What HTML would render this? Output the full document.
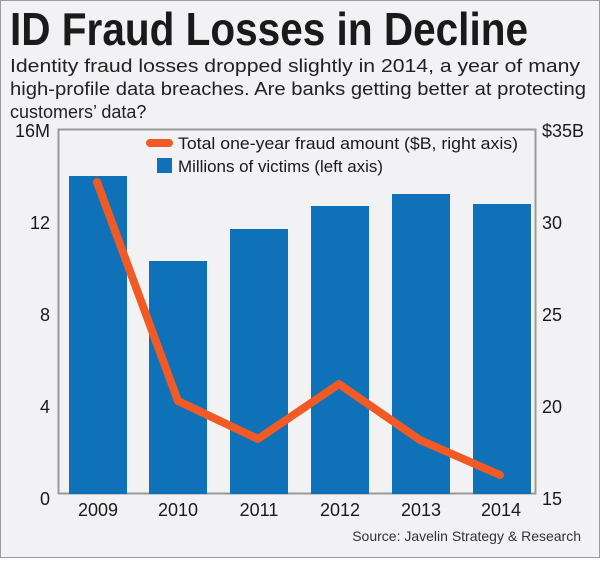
<!DOCTYPE html><html><head><style>body{margin:0}</style></head><body>
<svg width="600" height="558" xmlns="http://www.w3.org/2000/svg" font-family="Liberation Sans, sans-serif">
<rect x="0.5" y="0.5" width="599" height="557" fill="#f2f2f4" stroke="#9a9a9a"/>
<text x="10" y="45" font-size="46" font-weight="bold" fill="#1a1a1a" textLength="518" lengthAdjust="spacingAndGlyphs">ID Fraud Losses in Decline</text>
<g font-size="18" fill="#222">
<text x="10" y="72" textLength="570" lengthAdjust="spacingAndGlyphs">Identity fraud losses dropped slightly in 2014, a year of many</text>
<text x="10" y="95" textLength="576" lengthAdjust="spacingAndGlyphs">high-profile data breaches. Are banks getting better at protecting</text>
<text x="10" y="118">customers’ data?</text>
</g>
<rect x="58.5" y="129.5" width="477" height="364" fill="none" stroke="#999" stroke-width="2"/>
<g fill="#0f72b8">
<rect x="69" y="176" width="58" height="318"/>
<rect x="149" y="261" width="58" height="233"/>
<rect x="230" y="229" width="58" height="265"/>
<rect x="311" y="206" width="58" height="288"/>
<rect x="392" y="194" width="58" height="300"/>
<rect x="473" y="204" width="58" height="290"/>
</g>
<polyline points="97,182 178,401 258,439 339,384 420,440 500,475" fill="none" stroke="#f15a24" stroke-width="8" stroke-linecap="round" stroke-linejoin="round"/>
<line x1="150" y1="143" x2="169" y2="143" stroke="#f15a24" stroke-width="8" stroke-linecap="round"/>
<rect x="157" y="158" width="15" height="15" fill="#0f72b8"/>
<g font-size="17" fill="#1a1a1a">
<text x="178" y="149" textLength="340" lengthAdjust="spacingAndGlyphs">Total one-year fraud amount ($B, right axis)</text>
<text x="178" y="172" textLength="205" lengthAdjust="spacingAndGlyphs">Millions of victims (left axis)</text>
</g>
<g font-size="18" fill="#1a1a1a" text-anchor="end">
<text x="50" y="137">16M</text><text x="50" y="229">12</text><text x="50" y="321">8</text><text x="50" y="413">4</text><text x="50" y="505">0</text>
</g>
<g font-size="18" fill="#1a1a1a">
<text x="542" y="137">$35B</text><text x="542" y="229">30</text><text x="542" y="321">25</text><text x="542" y="413">20</text><text x="542" y="505">15</text>
</g>
<g font-size="18" fill="#1a1a1a" text-anchor="middle">
<text x="98" y="516">2009</text><text x="178" y="516">2010</text><text x="259" y="516">2011</text><text x="340" y="516">2012</text><text x="421" y="516">2013</text><text x="501" y="516">2014</text>
</g>
<text x="581" y="541" font-size="14" fill="#333" text-anchor="end">Source: Javelin Strategy &amp; Research</text>
</svg>
</body></html>
